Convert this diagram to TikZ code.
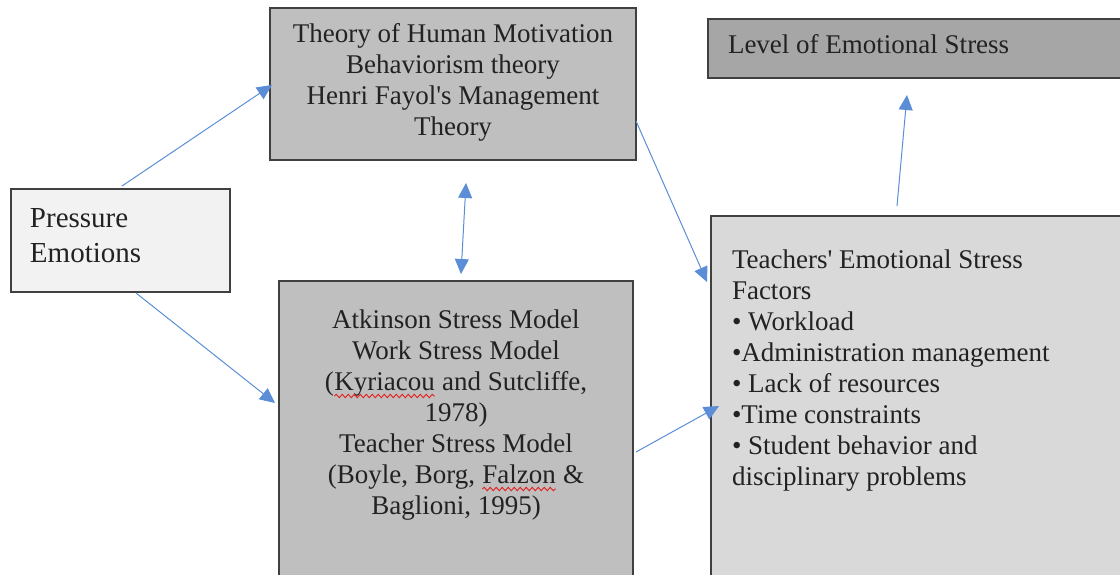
\documentclass[tikz,border=0pt]{standalone}
\usepackage{fontspec}
\setmainfont{Liberation Serif}[Ligatures=TeXOff]
\usetikzlibrary{arrows.meta,decorations.pathmorphing}

\definecolor{edgegray}{HTML}{404040}
\definecolor{inkgray}{HTML}{222222}
\definecolor{fillmid}{HTML}{BFBFBF}
\definecolor{filldark}{HTML}{A6A6A6}
\definecolor{filllight}{HTML}{F2F2F2}
\definecolor{fillpale}{HTML}{D9D9D9}
\definecolor{arrowblue}{RGB}{91,142,214}
\definecolor{spellred}{RGB}{228,30,30}

% word with a red wavy underline
\newcommand\spellmark[1]{\tikz[baseline=(sw.base)]{%
  \node[inner sep=0pt,outer sep=0pt] (sw) {#1};
  \draw[spellred,line width=0.9pt,decorate,
        decoration={snake,amplitude=1.7pt,segment length=6pt}]
    ([yshift=-6pt]sw.base west) -- ([yshift=-6pt]sw.base east);}}

\begin{document}
\begin{tikzpicture}[x=1pt,y=-1pt,
  box/.style={draw=edgegray,line width=1.3pt,inner sep=0pt,outer sep=0pt,
              minimum width=#1},
  txt/.style={inner sep=0pt,outer sep=0pt,text=inkgray,
              font=\fontsize{27}{31}\selectfont},
  bigtxt/.style={inner sep=0pt,outer sep=0pt,text=inkgray,
              font=\fontsize{29}{35}\selectfont},
  conn/.style={draw=arrowblue,line width=1pt,
               -{Triangle[length=15pt,width=14pt,fill=arrowblue]}},
  twoway/.style={draw=arrowblue,line width=1pt,
               {Triangle[length=15pt,width=14pt,fill=arrowblue]}-{Triangle[length=15pt,width=14pt,fill=arrowblue]}}]

\clip (0,0) rectangle (1120,574);
\useasboundingbox (0,0) rectangle (1120,574);

% boxes
\node[box=366pt,minimum height=152pt,fill=fillmid]   (theory)   at (453,84)    {};
\node[box=422pt,minimum height=59pt,fill=filldark]   (level)    at (919,48.5)  {};
\node[box=219pt,minimum height=103pt,fill=filllight] (pressure) at (120.5,240.5) {};
\node[box=354pt,minimum height=319pt,fill=fillmid]   (models)   at (456,440.5) {};
\node[box=419pt,minimum height=384pt,fill=fillpale]  (factors)  at (920.5,408) {};

% box texts
\node[txt,anchor=base] (theorytxt) at (453,42)
  {\begin{tabular}[t]{@{}c@{}}Theory of Human Motivation\\
   Behaviorism theory\\ Henri Fayol's Management\\ Theory\end{tabular}};
\node[txt,anchor=base west] (leveltxt) at (728,53) {Level of Emotional Stress};
\node[bigtxt,anchor=base west] (pressuretxt) at (30,227)
  {\begin{tabular}[t]{@{}l@{}}Pressure\\ Emotions\end{tabular}};
\node[txt,anchor=base] (modelstxt) at (456,328)
  {\begin{tabular}[t]{@{}c@{}}Atkinson Stress Model\\ Work Stress Model\\
   (\spellmark{Kyriacou} and Sutcliffe,\\ 1978)\\ Teacher Stress Model\\
   (Boyle, Borg, \spellmark{Falzon} \&\\ Baglioni, 1995)\end{tabular}};
\node[txt,anchor=base west] (factorstxt) at (732,268)
  {\begin{tabular}[t]{@{}l@{}}Teachers' Emotional Stress\\ Factors\\
   • Workload\\ •Administration management\\ • Lack of resources\\
   •Time constraints\\ • Student behavior and\\ disciplinary problems\end{tabular}};

% connector end points
\coordinate (p-up)     at (122,186);
\coordinate (t-in)     at (272,85);
\coordinate (p-down)   at (136,293);
\coordinate (m-in)     at (275,403);
\coordinate (t-below)  at (466,183);
\coordinate (m-above)  at (461,274);
\coordinate (t-right)  at (636,121);
\coordinate (f-in)     at (707,282);
\coordinate (m-right)  at (636,452);
\coordinate (f-in2)    at (719,406);
\coordinate (f-top)    at (897,206);
\coordinate (l-below)  at (907,95);

% connectors
\draw[conn]   (p-up)    -- (t-in);
\draw[conn]   (p-down)  -- (m-in);
\draw[twoway] (t-below) -- (m-above);
\draw[conn]   (t-right) -- (f-in);
\draw[conn]   (m-right) -- (f-in2);
\draw[conn]   (f-top)   -- (l-below);
\end{tikzpicture}
\end{document}
